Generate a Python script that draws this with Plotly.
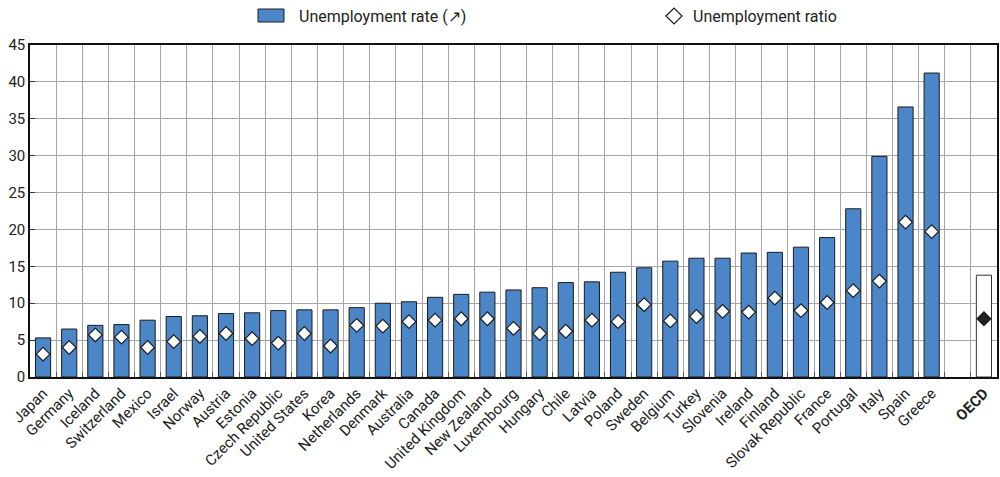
import plotly.graph_objects as go

countries = ["Japan", "Germany", "Iceland", "Switzerland", "Mexico", "Israel", "Norway",
             "Austria", "Estonia", "Czech Republic", "United States", "Korea", "Netherlands",
             "Denmark", "Australia", "Canada", "United Kingdom", "New Zealand", "Luxembourg",
             "Hungary", "Chile", "Latvia", "Poland", "Sweden", "Belgium", "Turkey", "Slovenia",
             "Ireland", "Finland", "Slovak Republic", "France", "Portugal", "Italy", "Spain", "Greece"]
unemp_rate = [5.3, 6.5, 7.0, 7.1, 7.7, 8.2, 8.3, 8.6, 8.7, 9.0, 9.1, 9.1, 9.4,
              10.0, 10.2, 10.8, 11.2, 11.5, 11.8, 12.1, 12.8, 12.9, 14.2, 14.8, 15.7, 16.1, 16.1,
              16.8, 16.9, 17.6, 18.9, 22.8, 29.9, 36.6, 41.2]
unemp_ratio = [3.1, 4.0, 5.7, 5.4, 4.0, 4.8, 5.5, 5.9, 5.2, 4.6, 5.9, 4.2, 7.0,
               6.9, 7.5, 7.7, 7.9, 7.9, 6.6, 5.9, 6.2, 7.7, 7.5, 9.8, 7.6, 8.2, 8.9,
               8.8, 10.7, 9.0, 10.1, 11.7, 13.0, 21.0, 19.7]
oecd_label = "<b>OECD</b>"
oecd_rate = [13.8]
oecd_ratio = [7.9]
gap = " "
legend_labels = ["Unemployment rate (\u2197)", "Unemployment ratio"]

font_family = "Roboto, Liberation Sans, sans-serif"
blue = "#4a86c8"
outline = "#1c1c1c"

# plot-area geometry in pixels (for the hand-made legend)
W, H = 1000, 477
ML, MR, MT, MB = 30, 3, 45, 100
PW, PH = W - ML - MR, H - MT - MB


def px(x):
    return (x - ML) / PW


def py(y):
    return (H - MB - y) / PH


order = countries + [gap, oecd_label]

fig = go.Figure()
fig.add_trace(go.Bar(
    x=countries + [gap], y=unemp_rate + [None], name=legend_labels[0], showlegend=False,
    marker=dict(color=blue, line=dict(color=outline, width=1)), width=0.58,
))
fig.add_trace(go.Bar(
    x=[oecd_label], y=oecd_rate, showlegend=False,
    marker=dict(color="white", line=dict(color="#333333", width=1)), width=0.58,
))
fig.add_trace(go.Scatter(
    x=countries, y=unemp_ratio, mode="markers", name=legend_labels[1], showlegend=False,
    marker=dict(symbol="diamond", size=10.5, color="white", line=dict(color=outline, width=1.2)),
))
fig.add_trace(go.Scatter(
    x=[oecd_label], y=oecd_ratio, mode="markers", showlegend=False,
    marker=dict(symbol="diamond", size=10.5, color="#222222", line=dict(color=outline, width=1.2)),
))

# hand-made legend
fig.add_shape(type="rect", xref="paper", yref="paper",
              x0=px(258), x1=px(284), y0=py(22), y1=py(9),
              fillcolor=blue, line=dict(color=outline, width=1))
fig.add_shape(type="path", xref="paper", yref="paper",
              path=f"M {px(666)} {py(16)} L {px(674)} {py(8)} L {px(682)} {py(16)} L {px(674)} {py(24)} Z",
              fillcolor="white", line=dict(color=outline, width=1.2))
fig.add_annotation(xref="paper", yref="paper", x=px(297), y=py(16), xanchor="left", yanchor="middle",
                   text=legend_labels[0], showarrow=False, font=dict(size=16))
fig.add_annotation(xref="paper", yref="paper", x=px(691), y=py(16), xanchor="left", yanchor="middle",
                   text=legend_labels[1], showarrow=False, font=dict(size=16))

fig.update_layout(
    width=W, height=H,
    margin=dict(l=ML, r=MR, t=MT, b=MB, autoexpand=False),
    plot_bgcolor="white", paper_bgcolor="white",
    barmode="overlay", showlegend=False,
    font=dict(family=font_family, size=15, color="#222222"),
    xaxis=dict(
        type="category", categoryorder="array", categoryarray=order,
        tickson="boundaries", showgrid=True, gridcolor="#a6a6a6", gridwidth=1,
        ticks="inside", ticklen=5, tickcolor="#555555",
        tickangle=-45, tickfont=dict(size=15),
        showline=True, linecolor="#111111", linewidth=1.5, mirror=True,
        range=[-0.5, len(order) - 0.5], automargin=False,
    ),
    yaxis=dict(
        range=[0, 45], dtick=5, showgrid=True, gridcolor="#a6a6a6", gridwidth=1,
        showline=True, linecolor="#111111", linewidth=1.5, mirror=True,
        ticks="inside", ticklen=5, tickcolor="#333333",
        tickfont=dict(size=15), zeroline=False, automargin=False,
    ),
)

fig.write_html("out.html", config={"displayModeBar": False},
               post_script="document.body.style.margin='0';")
